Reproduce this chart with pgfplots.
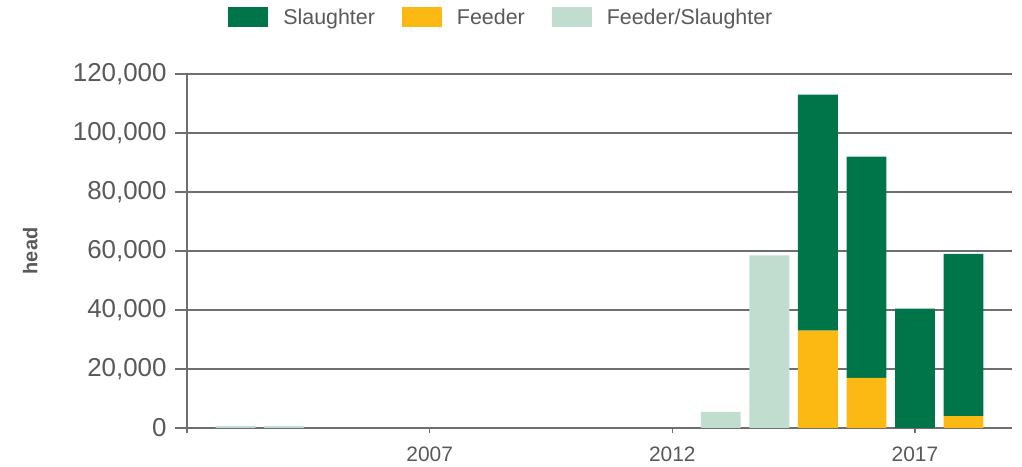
\documentclass[border=0pt]{standalone}
\usepackage{fontspec}
\setmainfont{Liberation Sans}
\usepackage{pgfplots}
\usepackage{pgfplotstable}
\pgfplotsset{compat=1.18}

\definecolor{slaughter}{HTML}{00754A}
\definecolor{feeder}{HTML}{FDB913}
\definecolor{feedslau}{HTML}{C0DDD0}
\definecolor{txt}{HTML}{595959}
\definecolor{gridc}{HTML}{6E6E6E}

% year, feeder, slaughter, feeder/slaughter
\pgfplotstableread{
year feeder slaughter fs
2003 0 0 600
2004 0 0 600
2005 0 0 0
2006 0 0 0
2007 0 0 0
2008 0 0 0
2009 0 0 0
2010 0 0 0
2011 0 0 0
2012 0 0 0
2013 0 0 5500
2014 0 0 58500
2015 33000 80000 0
2016 17000 75000 0
2017 0 40500 0
2018 4000 55000 0
}\headdata

\begin{document}
\begin{tikzpicture}
\begin{axis}[
    scale only axis,
    width=825bp, height=354bp,
    ybar stacked, bar width=0.82,
    xmin=2002, xmax=2019,
    ymin=0, ymax=120000,
    scaled y ticks=false,
    ytick={0,20000,40000,60000,80000,100000,120000},
    yticklabels={0,{20,000},{40,000},{60,000},{80,000},{100,000},{120,000}},
    xtick={2002,2007,2012,2017},
    xticklabels={,2007,2012,2017},
    axis x line=bottom, axis y line=left,
    axis line style={-, gridc, line width=1.6bp},
    tick align=outside,
    major tick length=12bp,
    tick style={gridc, line width=1.2bp},
    xtick style={/pgfplots/major tick length=5bp},
    ymajorgrids,
    major grid style={gridc, line width=1.6bp},
    yticklabel style={font=\fontsize{26}{29}\selectfont, text=txt, xshift=-5bp},
    xticklabel style={font=\fontsize{21}{24}\selectfont, text=txt, yshift=-3bp},
    ylabel={\textbf{head}},
    ylabel style={font=\fontsize{20}{22}\selectfont, text=txt, at={(axis description cs:-0.19,0.5)}, anchor=center},
    legend columns=3,
    legend style={draw=none, fill=none, at={(0.381,1.16)}, anchor=center,
        font=\fontsize{21.5}{25}\selectfont, text=txt,
        /tikz/every odd column/.append style={column sep=13bp},
        /tikz/every even column/.append style={column sep=25bp}},
    legend image code/.code={\fill[#1] (0bp,-10bp) rectangle (40bp,10bp);},
]
\addlegendimage{fill=slaughter, draw=none}
\addlegendentry{Slaughter}
\addlegendimage{fill=feeder, draw=none}
\addlegendentry{Feeder}
\addlegendimage{fill=feedslau, draw=none}
\addlegendentry{Feeder/Slaughter}

\addplot[fill=feeder, draw=none, forget plot] table[x=year, y=feeder] {\headdata};
\addplot[fill=slaughter, draw=none, forget plot] table[x=year, y=slaughter] {\headdata};
\addplot[fill=feedslau, draw=none, forget plot] table[x=year, y=fs] {\headdata};
\end{axis}
\path[use as bounding box] (-187bp,-39bp) rectangle (835bp,428bp);
\end{tikzpicture}
\end{document}
